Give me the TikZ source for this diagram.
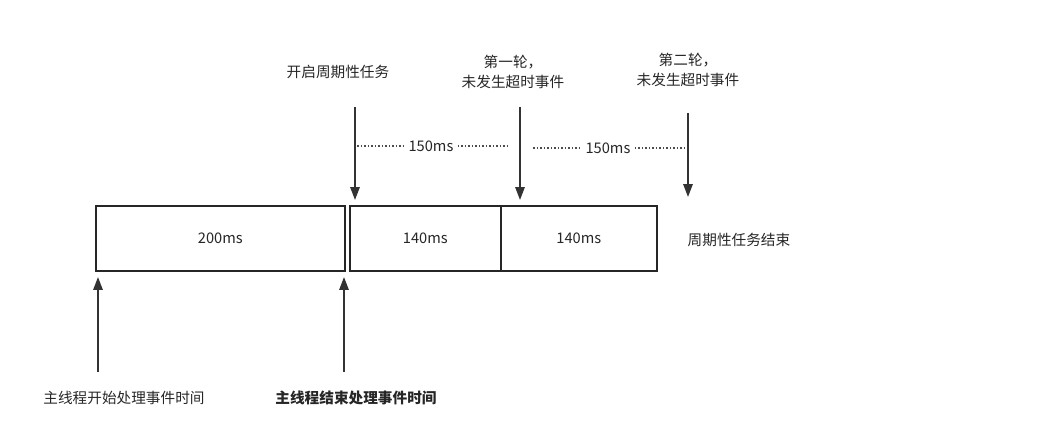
\documentclass[tikz,border=0pt]{standalone}
\usepackage{fontspec}
\setmainfont{Noto Sans CJK SC}
\usetikzlibrary{arrows.meta}
\begin{document}
\begin{tikzpicture}[x=0.03cm,y=-0.03cm,
            box/.style={draw=black!85,line width=1.4pt,minimum height=65*0.03cm,anchor=north west,inner sep=0pt},
            lbl/.style={font=\fontsize{12.5}{17}\selectfont,text=black!85,align=center},
            arr/.style={-{Triangle[length=11pt,width=8pt]},line width=1.4pt,black!80},
            dots/.style={dash pattern=on 1.3pt off 1.7pt,line width=1.3pt,black!70},
            ]
            \useasboundingbox (0,0) rectangle (1054,425);

            \node[box, minimum width=249*0.03cm] (b1) at (95,205) {};
            \node[box, minimum width=151*0.03cm] (b2) at (349,205) {};
            \node[box, minimum width=156*0.03cm] (b3) at (500,205) {};
            \node[lbl] at (b1.center) {200ms};
            \node[lbl] at (b2.center) {140ms};
            \node[lbl] at (b3.center) {140ms};
            \node[lbl] (end) at (739,240) {周期性任务结束};

            \node[lbl] (start) at (338,72) {开启周期性任务};
            \node[lbl] (r1) at (513,72) {第一轮，\\未发生超时事件};
            \node[lbl] (r2) at (688,70) {第二轮，\\未发生超时事件};

            \coordinate (s1) at (355,107); \coordinate (e1) at (355,200);
            \coordinate (s2) at (520,107); \coordinate (e2) at (520,200);
            \coordinate (s3) at (688,113); \coordinate (e3) at (688,197);
            \draw[arr] (s1) -- (e1);
            \draw[arr] (s2) -- (e2);
            \draw[arr] (s3) -- (e3);

            \node[lbl] (t1) at (431,146) {150ms};
            \node[lbl] (t2) at (608,148) {150ms};
            \coordinate (d1) at (357,146); \coordinate (d2) at (507,146);
            \coordinate (d3) at (533,148); \coordinate (d4) at (684,148);
            \draw[dots] (d1) -- (t1.west);
            \draw[dots] (t1.east) -- (d2);
            \draw[dots] (d3) -- (t2.west);
            \draw[dots] (t2.east) -- (d4);

            \node[lbl] (m1) at (124,398) {主线程开始处理事件时间};
            \node[lbl,font=\fontsize{12.5}{17}\selectfont\bfseries] (m2) at (356,398) {主线程结束处理事件时间};
            \coordinate (u1) at (98,372); \coordinate (v1) at (98,277);
            \coordinate (u2) at (344,372); \coordinate (v2) at (344,277);
            \draw[arr] (u1) -- (v1);
            \draw[arr] (u2) -- (v2);
        \end{tikzpicture}
\end{document}
